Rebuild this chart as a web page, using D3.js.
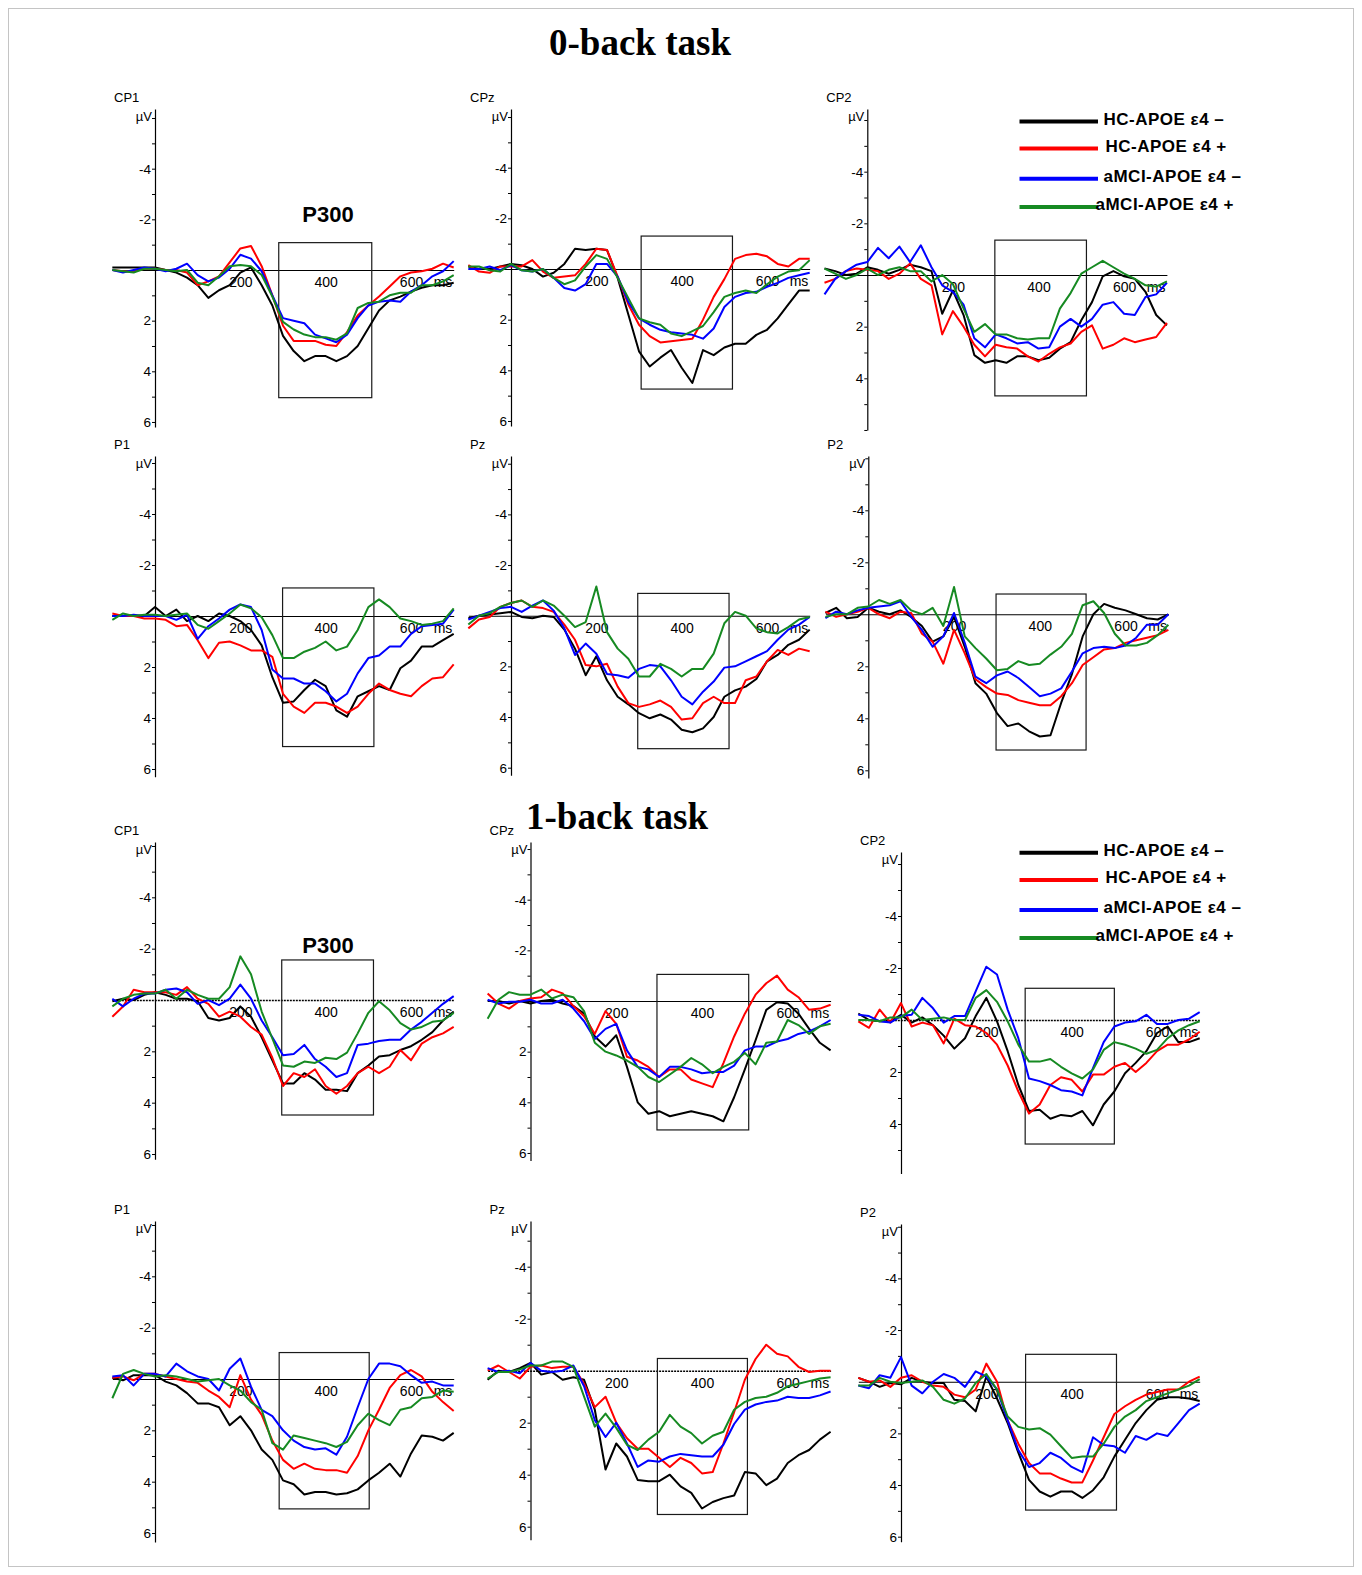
<!DOCTYPE html>
<html><head><meta charset="utf-8">
<script src="https://cdn.jsdelivr.net/npm/d3@7"></script>
<style>body{margin:0;background:#fff;}svg{display:block;}</style>
</head><body>
<svg id="c" width="1362" height="1575"></svg>
<script>
// ---------- DATA ----------
const times = [-100,-75,-50,-25,0,25,50,75,100,125,150,175,200,225,250,275,300,325,350,375,400,425,450,475,500,525,550,575,600,625,650,675,700];
const groups = ["HC-APOE ε4 –","HC-APOE ε4 +","aMCI-APOE ε4 –","aMCI-APOE ε4 +"];
const colors = ["#000000","#ff0000","#0000ff","#168a22"];
const channels = ["CP1","CPz","CP2","P1","Pz","P2","CP1","CPz","CP2","P1","Pz","P2"];
const tasks = ["0-back task","1-back task"];
const yTickLabels = [-4,-2,2,4,6];
const xTickLabels = [200,400,600];

// 0-back
const cp1_0_k = [-0.1,-0.1,-0.1,-0.1,-0.1, 0,0.1,0.3,0.6, 1.1,0.8,0.6,0.1, -0.1,0.6,1.4,2.6, 3.2,3.6,3.4,3.4, 3.6,3.4,3.0,2.3, 1.6,1.2,1.05,0.85, 0.7,0.6,0.6,0.5];
const cp1_0_r = [0,0.05,0.05,-0.05,-0.05, 0,0,0.1,0.6, 0.45,0.25,-0.3,-0.85, -0.95,-0.15,1.0,2.2, 2.8,2.8,2.8,2.95, 3.0,2.45,1.8,1.4, 1.05,0.65,0.25,0.1, 0.05,-0.05,-0.25,-0.1];
const cp1_0_b = [0,0.1,0,-0.1,-0.05, 0.05,-0.05,-0.25,0.2, 0.45,0.3,-0.05,-0.6, -0.45,0.05,1.0,1.9, 2.0,2.1,2.55,2.7, 2.85,2.55,1.9,1.4, 1.25,1.2,1.25,0.85, 0.6,0.25,0.05,-0.35];
const cp1_0_g = [0,0.05,0.1,-0.05,-0.05, 0,0.05,0,0.5, 0.6,0.25,-0.15,-0.2, -0.15,0.2,1.05,2.05, 2.35,2.55,2.65,2.65, 2.75,2.5,1.5,1.3, 1.25,1.0,0.9,0.9, 0.6,0.6,0.45,0.2];

const cpz_0_k = [-0.1,0,0,-0.1,-0.2, -0.15,0,0.3,0.15, -0.2,-0.8,-0.75,-0.8, -0.75,0.35,1.8,3.25, 3.85,3.5,3.2,3.9, 4.5,3.2,3.4,3.1, 2.95,2.95,2.6,2.4, 1.95,1.4,0.85,0.85];
const cpz_0_r = [-0.15,0.1,0.15,-0.1,-0.1, -0.1,-0.35,0.1,0.35, 0.3,0.25,-0.2,-0.8, -0.75,0.3,1.4,2.2, 2.65,2.9,2.85,2.8, 2.75,2.0,1.1,0.4, -0.4,-0.55,-0.6,-0.5, -0.2,-0.1,-0.4,-0.4];
const cpz_0_b = [0,0,-0.1,0.05,-0.15, 0.05,0.1,0,0.35, 0.75,0.85,0.6,-0.2, -0.2,0.3,1.3,1.95, 2.2,2.4,2.5,2.55, 2.6,2.75,2.35,1.5, 1.1,0.95,0.9,0.7, 0.55,0.35,0.25,0.15];
const cpz_0_g = [-0.1,-0.1,0.05,0.1,-0.2, 0.05,0.1,0,0.35, 0.6,0.45,-0.1,-0.55, -0.4,0.35,1.15,1.95, 2.1,2.2,2.55,2.65, 2.45,2.25,1.7,1.1, 0.95,0.85,0.95,0.6, 0.3,0.1,0.05,-0.35];

const cp2_0_k = [-0.25,-0.15,0,-0.05,-0.3, -0.2,-0.05,-0.2,-0.4, -0.3,-0.15,1.5,0.6, 1.55,3.1,3.4,3.3, 3.4,3.15,3.15,3.3, 3.2,2.85,2.6,1.75, 1.05,0.05,-0.15,0.05, 0.15,0.65,1.55,1.95];
const cp2_0_r = [0.3,0.15,-0.15,-0.25,-0.2, -0.15,0.15,-0.05,-0.45, 0.15,0.4,2.3,1.4, 2.0,2.7,3.15,2.7, 2.8,2.85,3.15,3.35, 3.05,2.8,2.65,2.2, 1.95,2.85,2.7,2.45, 2.6,2.5,2.4,1.85];
const cp2_0_b = [0.75,0.15,-0.15,-0.4,-0.5, -1.05,-0.65,-1.1,-0.5, -1.15,-0.3,0.4,0.65, 1.15,2.45,2.8,2.3, 2.45,2.65,2.6,2.85, 2.8,2.0,1.7,2.0, 1.7,1.15,1.05,1.5, 1.55,0.85,0.75,0.3];
const cp2_0_g = [-0.25,-0.05,0.15,0,-0.25, 0,-0.2,-0.3,-0.15, -0.15,0.25,0.0,0.35, 1.3,2.2,1.9,2.3, 2.3,2.45,2.5,2.45, 2.45,1.3,0.7,-0.05, -0.3,-0.55,-0.3,-0.05, 0.15,0.4,0.45,0.25];

const p1_0_k = [0,0,0,0,-0.35, 0,-0.25,0.2,0, 0.2,-0.1,0,0.2, 0.55,1.15,2.4,3.4, 3.35,2.9,2.5,2.75, 3.7,3.95,3.15,2.95, 2.75,2.9,2.05,1.75, 1.2,1.2,0.95,0.7];
const p1_0_r = [-0.1,0,0,0.1,0.1, 0.15,0.4,0.35,0.95, 1.65,1.05,1.0,1.15, 1.35,1.35,1.6,3.05, 3.55,3.8,3.4,3.4, 3.55,3.8,3.55,3.05, 2.65,2.9,3.05,3.15, 2.75,2.45,2.4,1.9];
const p1_0_b = [0,0,-0.05,0,0, 0,0.15,-0.05,0.9, 0.4,0.1,-0.25,-0.45, -0.35,0.55,2.1,2.45, 2.45,2.65,2.65,2.95, 3.35,3.05,2.25,1.65, 1.55,1.2,1.2,0.7, 0.4,0.35,0.3,-0.25];
const p1_0_g = [0.15,-0.1,0,-0.05,-0.05, 0,-0.05,-0.1,0.35, 0.5,0.2,-0.1,-0.45, -0.3,0.05,0.75,1.65, 1.65,1.4,1.25,1.0, 1.35,1.2,0.55,-0.35, -0.65,-0.35,0.1,0.2, 0.35,0.3,0.2,-0.3];

const pz_0_k = [0.1,0,-0.05,-0.1,-0.15, 0.05,0.1,0,0.05, 0.55,1.3,2.35,1.6, 2.55,3.2,3.5,3.85, 4.05,3.9,4.1,4.5, 4.6,4.45,4.0,3.2, 2.95,2.8,2.5,1.8, 1.55,1.15,0.95,0.55];
const pz_0_r = [0.5,0.15,0.05,-0.35,-0.5, -0.6,-0.35,-0.3,-0.15, 0.35,0.95,1.95,2.0, 1.9,2.8,3.45,3.6, 3.5,3.35,3.6,4.1, 4.05,3.45,3.2,3.45, 3.45,2.55,2.4,1.8, 1.35,1.55,1.3,1.4];
const pz_0_b = [0.15,0,-0.15,-0.3,-0.35, -0.15,-0.4,-0.6,-0.2, 0.5,1.55,1.1,1.5, 2.3,2.35,2.45,2.1, 1.95,2.0,2.55,3.2, 3.5,3.0,2.6,2.05, 2.0,1.8,1.6,1.4, 0.95,0.55,0.35,0.05];
const pz_0_g = [0.35,0,-0.1,-0.35,-0.5, -0.6,-0.35,-0.6,-0.4, 0,0.45,0.25,-1.15, 0.65,1.3,1.7,2.4, 2.4,1.9,2.1,2.4, 2.1,2.1,1.5,0.3, -0.15,0,0.5,0.65, 0.7,0.45,0.15,0.05];

const p2_0_k = [-0.05,-0.25,0.15,0.1,-0.25, -0.1,0,-0.15,0.1, 0.45,1.05,0.85,0.1, 1.25,2.65,3.05,3.8, 4.3,4.2,4.5,4.7, 4.65,3.4,2.3,0.85, 0,-0.4,-0.25,-0.15, 0,0.15,0.2,0];
const p2_0_r = [-0.1,0.1,0,-0.1,-0.25, 0,0.15,-0.1,-0.05, 0.75,1.05,1.9,0.6, 1.5,2.5,2.8,3.05, 3.1,3.3,3.4,3.5, 3.5,3.15,2.65,1.95, 1.65,1.35,1.3,1.1, 1.0,0.9,0.8,0.6];
const p2_0_b = [0.15,-0.1,0,-0.15,-0.25, -0.3,-0.35,-0.5,0.1, 0.6,1.25,0.85,-0.05, 1.1,2.4,2.65,2.35, 2.2,2.45,2.8,3.15, 3.05,2.85,2.2,1.5, 1.3,1.25,1.3,1.2, 0.9,0.4,0.4,0];
const p2_0_g = [0.1,0,0,-0.25,-0.3, -0.55,-0.4,-0.55,-0.15, 0,-0.25,0.45,-1.05, 0.85,1.3,1.7,2.15, 2.1,1.8,1.95,1.9, 1.55,1.25,0.75,-0.35, -0.5,-0.05,0.75,1.2, 1.2,1.1,0.8,0.4];

// 1-back
const cp1_1_k = [0.05,-0.05,0,-0.2,-0.3, -0.2,-0.05,-0.05,0.05, 0.7,0.8,0.7,0.25, 0.65,1.45,2.35,3.25, 3.25,2.85,3.1,3.5, 3.5,3.55,2.85,2.55, 2.2,2.15,1.95,1.8, 1.55,1.25,0.8,0.45];
const cp1_1_r = [0.65,0.25,-0.4,-0.3,-0.3, -0.3,-0.2,-0.5,-0.05, 0.15,0.65,0.45,0.65, 1.05,1.35,2.25,3.35, 2.85,3.0,2.7,3.35, 3.65,3.35,2.85,2.6, 2.85,2.6,1.95,2.35, 1.7,1.45,1.3,1.05];
const cp1_1_b = [-0.05,0.25,-0.05,-0.25,-0.25, -0.4,-0.45,-0.3,0.15, 0,0.2,-0.05,-0.6, -0.05,0.8,1.45,2.15, 2.1,1.75,2.3,2.6, 3.0,2.85,1.75,1.7, 1.6,1.55,1.55,1.15, 0.85,0.5,0.15,-0.15];
const cp1_1_g = [0.25,-0.05,-0.2,-0.25,-0.25, -0.4,-0.05,-0.4,-0.2, -0.05,-0.05,-0.5,-1.7, -1.0,0.45,1.5,2.55, 2.6,2.4,2.45,2.25, 2.3,2.05,1.3,0.5, 0.05,0.4,0.9,1.15, 1.05,0.85,0.8,0.5];

const cpz_1_k = [0,0,0.1,0,0.1, 0,-0.05,0.1,0.2, 0.5,1.4,1.8,1.35, 2.6,4.0,4.45,4.35, 4.55,4.45,4.35,4.45, 4.55,4.75,3.8,2.7, 1.55,0.35,0.05,0.1, 0.5,1.1,1.65,1.95];
const cpz_1_r = [-0.3,0.1,0.3,0,-0.1, -0.15,-0.45,-0.3,0.2, 0.6,1.3,0.4,0.9, 2.2,2.35,2.6,3.0, 2.7,2.7,3.1,3.25, 3.4,2.45,1.4,0.5, -0.25,-0.7,-1.0,-0.45, -0.15,0.35,0.3,0.15];
const cpz_1_b = [-0.05,0.1,0.03,0.03,-0.05, 0.1,0.1,-0.05,0.3, 0.8,1.5,1.1,0.9, 1.95,2.6,2.7,3.0, 2.6,2.6,2.7,2.85, 2.8,2.8,2.55,1.95, 1.8,1.8,1.6,1.5, 1.3,1.2,1.0,0.75];
const cpz_1_g = [0.7,-0.05,-0.35,-0.25,-0.25, -0.45,-0.1,-0.25,-0.15, 0.4,1.65,2.0,2.15, 2.35,2.6,3.0,3.2, 2.9,2.6,2.25,2.5, 2.85,2.6,2.4,2.05, 2.5,1.65,1.6,0.75, 0.95,1.3,1.0,0.9];

const cp2_1_k = [-0.25,0,0.05,0.05,-0.2, 0.1,-0.1,0.2,0.6, 1.1,0.7,-0.15,-0.85, 0.05,1.2,2.5,3.5, 3.45,3.8,3.65,3.7, 3.5,4.05,3.25,2.75, 2.05,1.65,1.2,0.5, 0.25,0.85,0.85,0.7];
const cp2_1_r = [0.05,0.3,-0.4,0.1,-0.65, 0.25,0.1,0.2,0.9, -0.05,0.2,0.25,0.5, 0.95,1.75,2.75,3.6, 3.25,2.5,2.2,2.3, 2.75,2.1,2.1,1.8, 1.65,2.0,1.65,1.2, 0.95,0.95,0.75,0.45];
const cp2_1_b = [-0.2,-0.15,0.05,0.1,-0.15, -0.2,-0.85,-0.45,0.1, -0.15,-0.15,-1.1,-2.05, -1.75,-0.4,0.7,2.25, 2.35,2.5,2.7,2.75, 2.9,1.85,0.85,0.25, 0.1,0.05,-0.2,0.15, 0.15,0,-0.05,-0.3];
const cp2_1_g = [0,0,0.05,-0.1,-0.1, -0.4,0,-0.05,-0.1, 0,0,-0.85,-1.15, -0.7,0.05,0.95,1.6, 1.6,1.5,1.8,2.05, 2.25,1.9,1.15,0.85, 0.95,1.1,1.3,1.15, 0.7,0.4,0.2,0.05];

const p1_1_k = [-0.05,0.05,-0.15,-0.15,-0.15, 0.1,0.25,0.55,0.95, 0.95,1.1,1.8,1.45, 2.0,2.75,3.15,3.95, 4.1,4.5,4.4,4.4, 4.5,4.45,4.3,3.95, 3.65,3.3,3.8,2.9, 2.2,2.25,2.4,2.1];
const p1_1_r = [-0.05,-0.1,0.05,-0.2,-0.2, -0.1,0,0.1,0.15, 0.45,0.7,1.1,-0.15, 0.8,1.4,2.4,3.15, 3.5,3.3,3.5,3.55, 3.55,3.65,3.0,2.0, 1.2,0.35,-0.15,-0.35, -0.1,0.5,0.9,1.25];
const p1_1_b = [-0.1,-0.15,0.25,-0.2,-0.2, -0.1,-0.6,-0.3,-0.1, 0,0.45,-0.4,-0.8, 0.3,1.2,1.45,2.0, 2.4,2.65,2.75,2.7, 2.95,2.25,1.1,0, -0.6,-0.6,-0.5,-0.15, 0.15,0.1,0.25,0.25];
const p1_1_g = [0.75,-0.2,-0.35,-0.2,-0.1, -0.15,-0.1,0,0.1, 0.05,0,0.25,0.45, 0.9,1.2,2.5,2.75, 2.2,2.3,2.4,2.5, 2.65,2.45,1.8,1.35, 1.6,1.8,1.2,1.1, 0.75,0.7,0.45,0.5];

const pz_1_k = [0.35,0,0.05,-0.1,-0.3, 0.15,0.05,0.35,0.25, 0.35,1.5,3.8,2.8, 3.3,4.2,4.25,4.25, 4.0,4.45,4.7,5.3, 5.05,4.9,4.8,3.9, 3.95,4.4,4.15,3.55, 3.25,3.05,2.65,2.35];
const pz_1_r = [0,-0.2,0.05,0.3,-0.15, -0.2,-0.1,-0.15,-0.15, 0.5,1.4,1.0,2.0, 2.6,3.0,3.0,3.35, 3.7,3.35,3.55,3.95, 3.9,2.8,1.6,0.35, -0.45,-1.0,-0.65,-0.55, -0.15,0.05,0,0];
const pz_1_b = [-0.1,0.05,0,0.1,-0.3, 0,0.05,0,-0.2, 0.6,1.9,2.55,2.0, 2.8,3.7,3.45,3.5, 3.3,3.2,3.25,3.3, 3.3,2.85,2.05,1.5, 1.3,1.2,1.15,1.0, 1.05,1.05,0.95,0.8];
const pz_1_g = [0.3,0.05,0.05,-0.05,-0.2, -0.2,-0.35,-0.35,-0.15, 1.0,2.15,1.65,2.2, 2.85,3.05,2.65,2.35, 1.7,2.15,2.4,2.8, 2.5,2.35,1.5,1.2, 1.05,1.0,0.85,0.6, 0.5,0.4,0.3,0.25];

const p2_1_k = [-0.15,0,0.2,0.05,0.1, -0.15,0,0.05,0.05, 0.7,0.75,1.15,-0.2, 0.65,1.6,2.75,3.8, 4.25,4.45,4.25,4.25, 4.5,4.2,3.7,2.9, 2.25,1.6,1.1,0.7, 0.6,0.6,0.65,0.75];
const p2_1_r = [-0.15,0,-0.05,0.2,-0.15, -0.25,0,0.15,0.2, 0.5,0.6,0.3,-0.7, 0,1.5,2.4,3.15, 3.55,3.55,3.75,3.9, 3.9,3.05,2.15,1.25, 0.95,0.7,0.5,0.4, 0.3,0.3,0,-0.2];
const p2_1_b = [0.15,0.25,-0.25,-0.15,-0.95, 0.15,0.45,0,-0.3, -0.15,0.2,-0.4,-0.2, 0.3,1.5,2.65,3.3, 3.15,2.75,2.95,3.3, 3.5,2.15,2.45,2.5, 2.75,2.1,2.25,2.0, 2.1,1.6,1.1,0.85];
const p2_1_g = [0.15,0.15,-0.15,0,0.05, 0,-0.05,0.2,0.7, 0.85,0.65,0.05,-0.3, 0.3,1.35,1.75,1.85, 1.8,2.05,2.5,2.95, 2.9,2.9,2.4,1.75, 1.35,1.1,0.75,0.6, 0.45,0.3,0.15,-0.1];

// P300 analysis windows [t1, t2, µV top, µV bottom]
const boxes = [[290,508,-1.08,5.04],[305,519,-1.3,4.74],[298,512,-1.35,4.68],
               [299,513,-1.1,5.12],[297,511,-0.88,5.25],[298,508,-0.78,5.22],
               [297,512,-1.56,4.48],[295,509,-1.05,5.09],[291,500,-1.22,4.77],
               [291,502,-1.03,5.06],[296,506,-0.47,5.53],[292,505,-1.06,4.97]];

const seriesByPanel = [
  [cp1_0_k,cp1_0_r,cp1_0_b,cp1_0_g],[cpz_0_k,cpz_0_r,cpz_0_b,cpz_0_g],[cp2_0_k,cp2_0_r,cp2_0_b,cp2_0_g],
  [p1_0_k,p1_0_r,p1_0_b,p1_0_g],[pz_0_k,pz_0_r,pz_0_b,pz_0_g],[p2_0_k,p2_0_r,p2_0_b,p2_0_g],
  [cp1_1_k,cp1_1_r,cp1_1_b,cp1_1_g],[cpz_1_k,cpz_1_r,cpz_1_b,cpz_1_g],[cp2_1_k,cp2_1_r,cp2_1_b,cp2_1_g],
  [p1_1_k,p1_1_r,p1_1_b,p1_1_g],[pz_1_k,pz_1_r,pz_1_b,pz_1_g],[p2_1_k,p2_1_r,p2_1_b,p2_1_g]
];

// ---------- LAYOUT ----------
const layout = [
 {x0:155,  z:270,    ky:25.33, kx:0.4267, chY:102,  bot:6.2},
 {x0:511,  z:269,    ky:25.33, kx:0.4267, chY:102,  bot:6.2},
 {x0:867.3,z:275,    ky:25.83, kx:0.428,  chY:102,  bot:6.0, no6:true},
 {x0:155,  z:616,    ky:25.5,  kx:0.4267, chY:449,  bot:6.3},
 {x0:511,  z:615.7,  ky:25.33, kx:0.4267, chY:449,  bot:6.3},
 {x0:868.3,z:614.3,  ky:26,    kx:0.4287, chY:449,  bot:6.3},
 {x0:155,  z:1000,   ky:25.67, kx:0.4267, chY:835,  bot:6.2, dotted:true},
 {x0:530.5,z:1001,   ky:25.33, kx:0.4287, chY:835,  bot:6.3},
 {x0:901,  z:1020,   ky:26,    kx:0.4267, chY:845,  bot:5.9, no6:true, dotted:true},
 {x0:155,  z:1379,   ky:25.67, kx:0.4267, chY:1214, bot:6.35},
 {x0:530.5,z:1370.7, ky:26,    kx:0.4287, chY:1214, bot:6.5, dotted:true},
 {x0:901,  z:1381.7, ky:25.83, kx:0.4267, chY:1217, bot:6.2}
];

const FONT = "'Liberation Sans', Arial, sans-serif";
const svg = d3.select("#c");
svg.append("rect").attr("x",8.5).attr("y",8.5).attr("width",1345).attr("height",1558)
  .attr("fill","none").attr("stroke","#c4c4c4").attr("stroke-width",1);

// titles
svg.append("text").attr("x",640).attr("y",55).attr("text-anchor","middle")
  .attr("font-family","'Liberation Serif','Times New Roman',serif").attr("font-weight","bold")
  .attr("font-size",37).text(tasks[0]);
svg.append("text").attr("x",617).attr("y",829).attr("text-anchor","middle")
  .attr("font-family","'Liberation Serif','Times New Roman',serif").attr("font-weight","bold")
  .attr("font-size",37).text(tasks[1]);

seriesByPanel.forEach((series, i) => {
  const L = layout[i];
  const top = (L.chY + 7 - L.z) / L.ky;
  const x = d3.scaleLinear().domain([-100, 700]).range([L.x0 - 100*L.kx, L.x0 + 700*L.kx]);
  const y = d3.scaleLinear().domain([top, L.bot]).range([L.z + top*L.ky, L.z + L.bot*L.ky]);
  const g = svg.append("g");

  // y axis
  const labs = yTickLabels.filter(v => !(L.no6 && v === 6));
  const ticks = d3.range(-6, 7).filter(v => v !== 0 && v >= top && v <= L.bot);
  const ya = g.append("g").attr("transform", `translate(${L.x0},0)`)
    .call(d3.axisLeft(y).tickValues(ticks).tickSize(3).tickSizeOuter(0).tickPadding(1)
      .tickFormat(d => labs.includes(d) ? d : ""));
  ya.select(".domain").attr("stroke","#000").attr("stroke-width",1.2);
  ya.selectAll(".tick line").attr("stroke","#000");
  ya.selectAll("text").attr("font-family",FONT).attr("font-size",13.5).attr("fill","#000");

  // x axis (zero line)
  const xa = g.append("g").attr("transform", `translate(0,${L.z})`)
    .call(d3.axisBottom(x).tickValues(xTickLabels).tickSize(0).tickPadding(7).tickSizeOuter(0));
  xa.select(".domain").attr("stroke","#000").attr("stroke-width", L.dotted ? 1.6 : 1.1)
    .attr("stroke-dasharray", L.dotted ? "2,1" : null);
  xa.selectAll("text").attr("font-family",FONT).attr("font-size",14).attr("fill","#000");
  g.append("text").attr("x", x(675)).attr("y", L.z + 7).attr("dy","0.71em")
    .attr("text-anchor","middle").attr("font-family",FONT).attr("font-size",14).text("ms");

  // channel label and unit
  g.append("text").attr("x", L.x0 - 41).attr("y", L.chY).attr("font-family",FONT)
    .attr("font-size",13).text(channels[i]);
  g.append("text").attr("x", L.x0 - 3).attr("y", L.chY + 19).attr("text-anchor","end")
    .attr("font-family",FONT).attr("font-size",13).text("µV");

  // analysis window box
  const b = boxes[i];
  g.append("rect").attr("x", x(b[0])).attr("y", y(b[2]))
    .attr("width", x(b[1]) - x(b[0])).attr("height", y(b[3]) - y(b[2]))
    .attr("fill","none").attr("stroke","#1a1a1a").attr("stroke-width",1.2);

  // waveforms
  const line = d3.line().x((d, k) => x(times[k])).y(d => y(d));
  series.forEach((s, j) => {
    g.append("path").attr("d", line(s)).attr("fill","none")
      .attr("stroke", colors[j]).attr("stroke-width", 2).attr("stroke-linejoin","round");
  });
});

// P300 labels
[[328, 222], [328, 953]].forEach(p => {
  svg.append("text").attr("x",p[0]).attr("y",p[1]).attr("text-anchor","middle")
    .attr("font-family",FONT).attr("font-weight","bold").attr("font-size",22).text("P300");
});

// legends
const legendY = [[121.5,148.6,178.8,206.9],[852.7,879.9,910,938.1]];
const legendTextX = [1103.5,1105.5,1103.5,1095.5];
legendY.forEach(ys => {
  groups.forEach((name, j) => {
    svg.append("line").attr("x1",1019.5).attr("x2",1098).attr("y1",ys[j]).attr("y2",ys[j])
      .attr("stroke",colors[j]).attr("stroke-width",4);
    svg.append("text").attr("x",legendTextX[j]).attr("y",ys[j] + 3)
      .attr("font-family",FONT).attr("font-weight","bold").attr("font-size",17)
      .attr("letter-spacing",0.5).text(name);
  });
});
</script>
</body></html>
